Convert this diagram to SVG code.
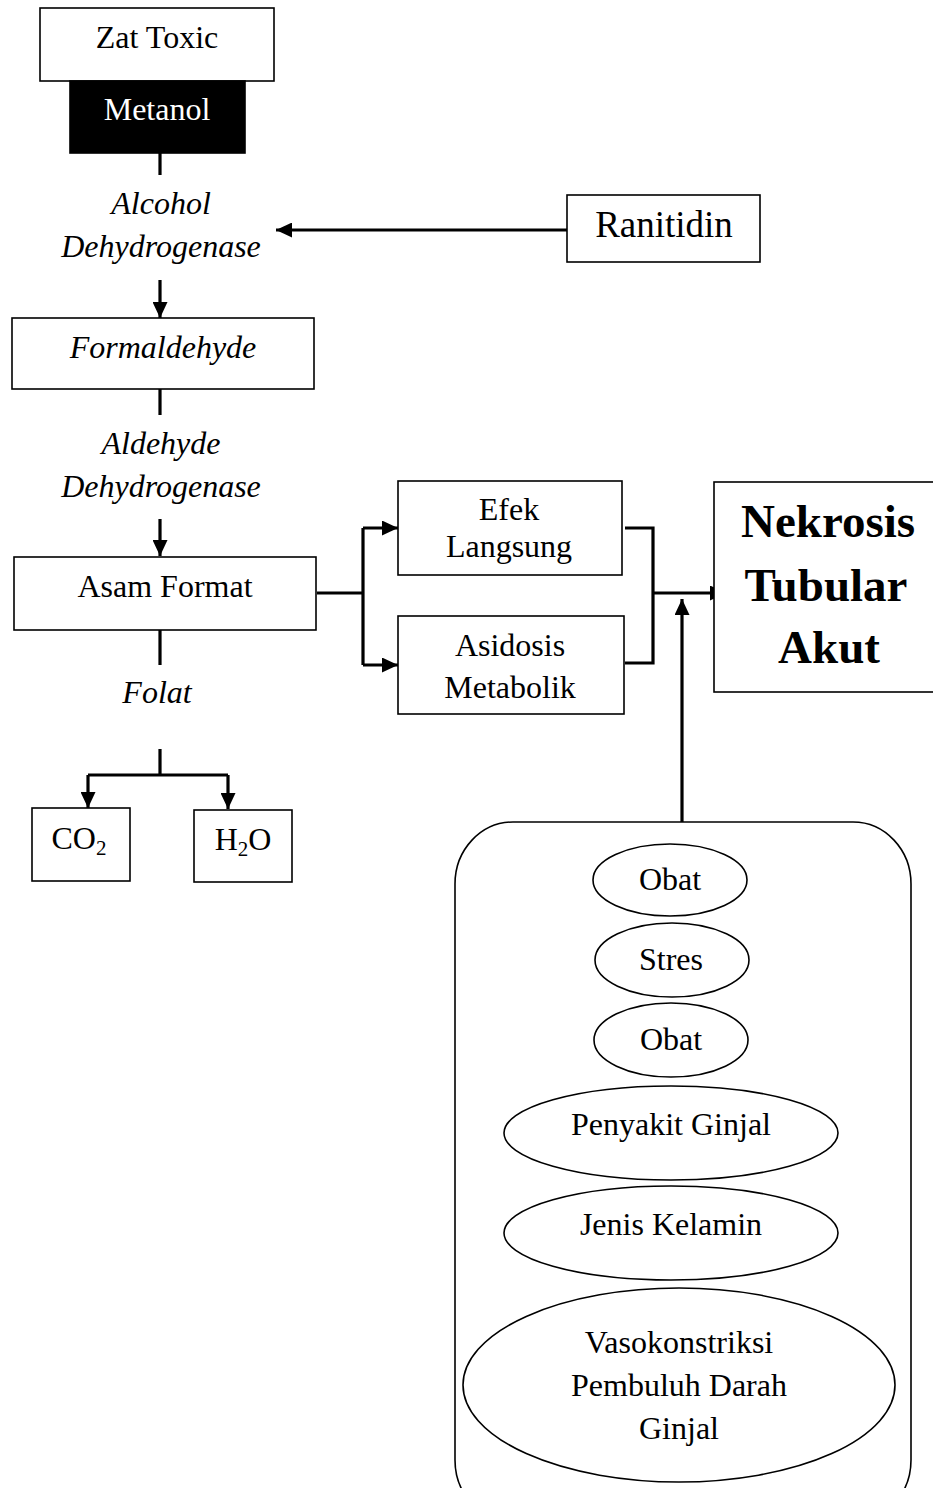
<svg xmlns="http://www.w3.org/2000/svg" width="933" height="1488" viewBox="0 0 933 1488">
<style>
text{font-family:"Liberation Serif","Times New Roman",serif;font-size:32px;fill:#000;text-anchor:middle}
.it{font-style:italic}
.box{fill:#fff;stroke:#000;stroke-width:1.6}
.ell{fill:#fff;stroke:#000;stroke-width:1.6}
.con{fill:none;stroke:#000;stroke-width:3.2}
.big{font-size:47px;font-weight:bold}
</style>
<defs>
<marker id="ah" markerUnits="userSpaceOnUse" markerWidth="16" markerHeight="15" refX="16" refY="7.5" orient="auto" viewBox="0 0 16 15">
<path d="M0,0 L16,7.5 L0,15 z" fill="#000"/>
</marker>
</defs>
<rect width="933" height="1488" fill="#fff"/>

<g id="connectors">
<line class="con" x1="160" y1="153" x2="160" y2="175"/>
<line class="con" x1="567" y1="230" x2="276" y2="230" marker-end="url(#ah)"/>
<line class="con" x1="160" y1="280" x2="160" y2="318" marker-end="url(#ah)"/>
<line class="con" x1="160" y1="389" x2="160" y2="415"/>
<line class="con" x1="160" y1="519" x2="160" y2="556" marker-end="url(#ah)"/>
<line class="con" x1="160" y1="630" x2="160" y2="665"/>
<path class="con" d="M160,749 V775 M88,775 H228"/>
<line class="con" x1="88" y1="775" x2="88" y2="808" marker-end="url(#ah)"/>
<line class="con" x1="228" y1="775" x2="228" y2="809" marker-end="url(#ah)"/>
<path class="con" d="M317,593 H363 M363,528 V665"/>
<line class="con" x1="363" y1="528" x2="398" y2="528" marker-end="url(#ah)"/>
<line class="con" x1="363" y1="665" x2="398" y2="665" marker-end="url(#ah)"/>
<path class="con" d="M625,528 H653 V663 H625"/>
<line class="con" x1="653" y1="593" x2="726" y2="593" marker-end="url(#ah)"/>
<line class="con" x1="682" y1="822" x2="682" y2="599" marker-end="url(#ah)"/>
</g>

<g id="zat-toxic">
<rect class="box" x="40" y="8" width="234" height="73"/>
<text x="157" y="48">Zat Toxic</text>
</g>
<g id="metanol">
<rect x="70" y="81" width="175" height="72" fill="#000" stroke="#000" stroke-width="1.6"/>
<text x="157" y="120" style="fill:#fff">Metanol</text>
</g>
<g id="alcohol-dehydrogenase">
<text class="it" x="161" y="214">Alcohol</text>
<text class="it" x="161" y="257">Dehydrogenase</text>
</g>
<g id="ranitidin">
<rect class="box" x="567" y="195" width="193" height="67"/>
<text x="664" y="237" style="font-size:37px">Ranitidin</text>
</g>
<g id="formaldehyde">
<rect class="box" x="12" y="318" width="302" height="71"/>
<text class="it" x="163" y="358">Formaldehyde</text>
</g>
<g id="aldehyde-dehydrogenase">
<text class="it" x="161" y="454">Aldehyde</text>
<text class="it" x="161" y="497">Dehydrogenase</text>
</g>
<g id="asam-format">
<rect class="box" x="14" y="557" width="302" height="73"/>
<text x="165" y="597">Asam Format</text>
</g>
<g id="folat">
<text class="it" x="157" y="703">Folat</text>
</g>
<g id="co2">
<rect class="box" x="32" y="808" width="98" height="73"/>
<text x="79" y="849">CO<tspan font-size="21" dy="6">2</tspan></text>
</g>
<g id="h2o">
<rect class="box" x="194" y="810" width="98" height="72"/>
<text x="243" y="850">H<tspan font-size="21" dy="6">2</tspan><tspan dy="-6">O</tspan></text>
</g>
<g id="efek-langsung">
<rect class="box" x="398" y="481" width="224" height="94"/>
<text x="509" y="520">Efek</text>
<text x="509" y="557">Langsung</text>
</g>
<g id="asidosis-metabolik">
<rect class="box" x="398" y="616" width="226" height="98"/>
<text x="510" y="656">Asidosis</text>
<text x="510" y="698">Metabolik</text>
</g>
<g id="nekrosis">
<rect class="box" x="714" y="482" width="225" height="210"/>
<text class="big" x="828" y="537">Nekrosis</text>
<text class="big" x="826" y="601">Tubular</text>
<text class="big" x="829" y="663">Akut</text>
</g>
<g id="faktor">
<rect class="box" x="455" y="822" width="456" height="700" rx="58" ry="62"/>
</g>
<g id="obat1">
<ellipse class="ell" cx="670" cy="880" rx="77" ry="36"/>
<text x="670" y="890">Obat</text>
</g>
<g id="stres">
<ellipse class="ell" cx="672" cy="960" rx="77" ry="37"/>
<text x="671" y="970">Stres</text>
</g>
<g id="obat2">
<ellipse class="ell" cx="671" cy="1040" rx="77" ry="37"/>
<text x="671" y="1050">Obat</text>
</g>
<g id="penyakit-ginjal">
<ellipse class="ell" cx="671" cy="1133" rx="167" ry="47"/>
<text x="671" y="1135">Penyakit Ginjal</text>
</g>
<g id="jenis-kelamin">
<ellipse class="ell" cx="671" cy="1233" rx="167" ry="47"/>
<text x="671" y="1235">Jenis Kelamin</text>
</g>
<g id="vasokonstriksi">
<ellipse class="ell" cx="679" cy="1385" rx="216" ry="97"/>
<text x="679" y="1353">Vasokonstriksi</text>
<text x="679" y="1396">Pembuluh Darah</text>
<text x="679" y="1439">Ginjal</text>
</g>
</svg>
